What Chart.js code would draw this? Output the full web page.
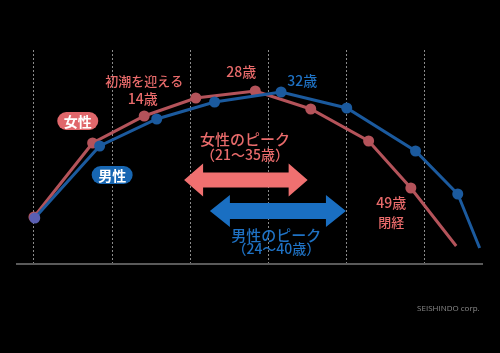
<!DOCTYPE html>
<html>
<head>
<meta charset="utf-8">
<script src="https://cdn.jsdelivr.net/npm/chart.js@4/dist/chart.umd.min.js"></script>
<style>
  html, body { margin: 0; padding: 0; background: #000; }
  #wrap { width: 500px; height: 353px; }
</style>
</head>
<body>
<div id="wrap"><canvas id="canvas"></canvas></div>
<script>
// ages (x) and relative level (y)
const femaleAges  = [0, 7.5, 14.1, 20.7, 28.3, 35.4, 42.8, 48.2, 54.0];
const femaleLevel = [47, 121, 148, 166, 173, 155, 123, 76, 18];
const maleAges    = [0.1, 8.4, 15.7, 23.1, 31.6, 40.0, 48.8, 54.2, 57.0];
const maleLevel   = [46, 118, 145, 162, 172, 156, 113, 70, 16];
const gridAges    = [0, 10, 20, 30, 40, 50];

// peak ranges drawn as double arrows
const femalePeak = [19.2, 35.0];
const malePeak   = [22.5, 39.9];

// annotations: [text, age, level, colour, font]
const RED_TXT = '#e96b6b';
const BLUE_TXT = '#1f72c4';
const jp = '"Noto Sans CJK JP", "Noto Sans", sans-serif';
const notes = [
  ['初潮を迎える', 14.1, 183, RED_TXT, '500 13px ' + jp],
  ['14歳', 13.9, 165, RED_TXT, '500 14px ' + jp],
  ['28歳', 26.5, 192, RED_TXT, '500 14px ' + jp],
  ['32歳', 34.3, 183, BLUE_TXT, '500 14px ' + jp],
  ['女性のピーク', 27.0, 125, RED_TXT, '500 15px ' + jp],
  ['（21～35歳）', 27.0, 109, RED_TXT, '500 14px ' + jp],
  ['男性のピーク', 31.0, 29, BLUE_TXT, '500 15px ' + jp],
  ['（24～40歳）', 31.0, 15, BLUE_TXT, '500 14px ' + jp],
  ['49歳', 45.7, 61, RED_TXT, '500 14px ' + jp],
  ['閉経', 45.7, 42, RED_TXT, '500 13px ' + jp],
  ['SEISHINDO corp.', 53.0, -45, '#8a8a8a', '8px "Open Sans", sans-serif']
];
// pills: [text, age, level, background]
const pills = [
  ['女性', 5.6, 143, '#e0676b'],
  ['男性', 10.0, 89, '#1766b2']
];

const femaleData = femaleAges.map((a, i) => ({ x: a, y: femaleLevel[i] }));
const maleData = maleAges.map((a, i) => ({ x: a, y: maleLevel[i] }));
const radii = n => Array.from({ length: n }, (_, i) => i === n - 1 ? 0 : 5.5);

function doubleArrow(ctx, x1, x2, yc, body, head, headLen, color) {
  ctx.fillStyle = color;
  ctx.beginPath();
  ctx.moveTo(x1, yc);
  ctx.lineTo(x1 + headLen, yc - head / 2);
  ctx.lineTo(x1 + headLen, yc - body / 2);
  ctx.lineTo(x2 - headLen, yc - body / 2);
  ctx.lineTo(x2 - headLen, yc - head / 2);
  ctx.lineTo(x2, yc);
  ctx.lineTo(x2 - headLen, yc + head / 2);
  ctx.lineTo(x2 - headLen, yc + body / 2);
  ctx.lineTo(x1 + headLen, yc + body / 2);
  ctx.lineTo(x1 + headLen, yc + head / 2);
  ctx.closePath();
  ctx.fill();
}

const labelsPlugin = {
  id: 'labels',
  afterDatasetsDraw(chart) {
    const { ctx, scales: { x, y } } = chart;
    ctx.save();
    doubleArrow(ctx, x.getPixelForValue(femalePeak[0]), x.getPixelForValue(femalePeak[1]),
      y.getPixelForValue(84), 15, 33, 19, '#f07070');
    doubleArrow(ctx, x.getPixelForValue(malePeak[0]), x.getPixelForValue(malePeak[1]),
      y.getPixelForValue(53), 16, 32, 20, '#1a6fc2');
    ctx.textAlign = 'center';
    ctx.textBaseline = 'middle';
    notes.forEach(([t, a, l, c, f]) => {
      ctx.font = f;
      ctx.fillStyle = c;
      ctx.fillText(t, x.getPixelForValue(a), y.getPixelForValue(l));
    });
    pills.forEach(([t, a, l, bg]) => {
      const cx = x.getPixelForValue(a), cy = y.getPixelForValue(l);
      const w = 41, h = 18;
      ctx.fillStyle = bg;
      ctx.beginPath();
      ctx.roundRect(cx - w / 2, cy - h / 2, w, h, h / 2);
      ctx.fill();
      ctx.font = 'bold 14px ' + jp;
      ctx.fillStyle = '#fff';
      ctx.fillText(t, cx, cy + 1);
    });
    ctx.restore();
  }
};

const ctx = document.getElementById('canvas').getContext('2d');
const myChart = new Chart(ctx, {
  type: 'line',
  data: {
    datasets: [{
      label: '男性',
      data: maleData,
      borderColor: '#1b5a9e',
      backgroundColor: '#1b5a9e',
      pointBackgroundColor: maleData.map((d, i) => i === 0 ? '#5a5fb3' : '#1b5a9e'),
      pointBorderWidth: 0,
      pointRadius: radii(maleData.length),
      borderWidth: 3
    }, {
      label: '女性',
      data: femaleData,
      borderColor: '#b4535a',
      backgroundColor: '#b4535a',
      pointBorderWidth: 0,
      pointRadius: radii(femaleData.length),
      borderWidth: 3
    }]
  },
  options: {
    responsive: true,
    maintainAspectRatio: false,
    animation: false,
    layout: { padding: { left: 17, right: 18, top: 50, bottom: 89 } },
    plugins: { legend: { display: false }, tooltip: { enabled: false } },
    scales: {
      x: {
        type: 'linear',
        min: -2.17,
        max: 57.3,
        afterBuildTicks: s => { s.ticks = gridAges.map(v => ({ value: v })); },
        ticks: { display: false },
        grid: { color: '#8a8a8a', lineWidth: 1, drawTicks: false },
        border: { display: true, color: '#5a5a5a', width: 2, dash: [2, 2] }
      },
      y: {
        display: false,
        min: 0,
        max: 214
      }
    }
  },
  plugins: [labelsPlugin]
});
</script>
</body>
</html>
